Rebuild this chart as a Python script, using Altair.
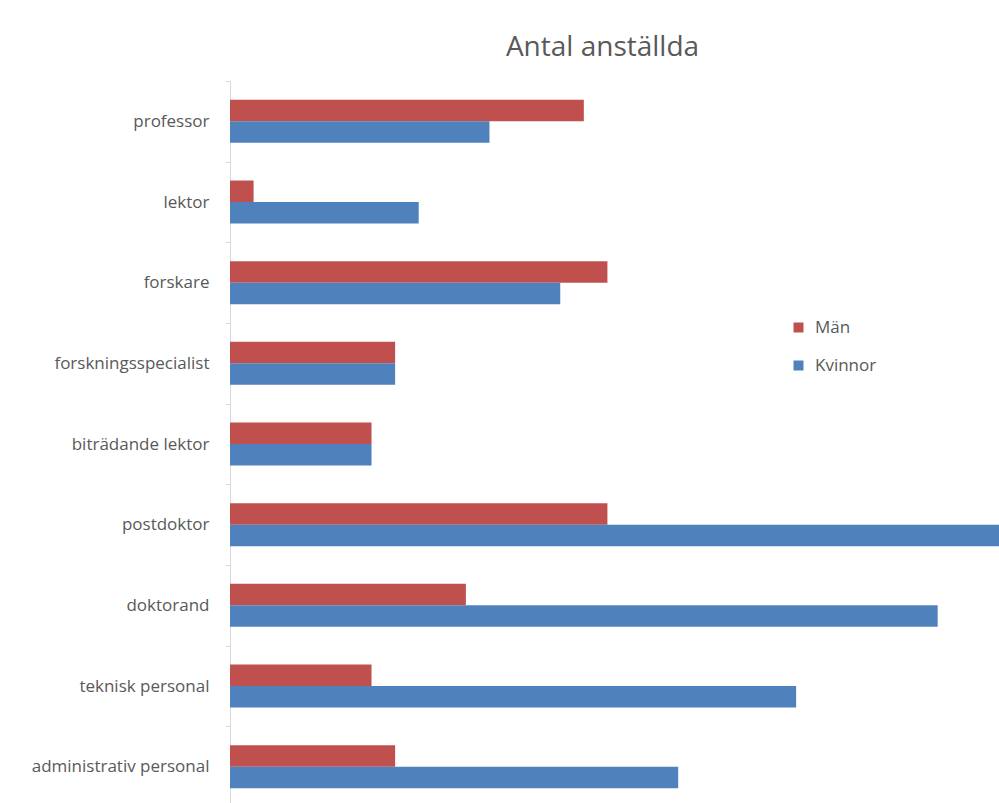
import altair as alt
import pandas as pd

# Staff counts per position, split by gender
categories = [
    "professor",
    "lektor",
    "forskare",
    "forskningsspecialist",
    "biträdande lektor",
    "postdoktor",
    "doktorand",
    "teknisk personal",
    "administrativ personal",
]
man = [15, 1, 16, 7, 6, 16, 10, 6, 7]
kvinnor = [11, 8, 14, 7, 6, 34, 30, 24, 19]
series = ["Män", "Kvinnor"]
colors = ["#C0504D", "#4F81BD"]

rows = []
for cat, m, k in zip(categories, man, kvinnor):
    rows.append({"position": cat, "kon": series[0], "antal": m})
    rows.append({"position": cat, "kon": series[1], "antal": k})
df = pd.DataFrame(rows)

text_color = "#595959"
font = "Open Sans"

chart = (
    alt.Chart(df)
    .mark_bar(clip=True)
    .encode(
        y=alt.Y(
            "position:N",
            sort=categories,
            scale=alt.Scale(paddingInner=0, paddingOuter=0),
            axis=alt.Axis(
                title=None,
                domainColor="#d9d9d9",
                tickColor="#d9d9d9",
                tickBand="extent",
                tickSize=5,
                labelPadding=16,
                labelFontSize=17,
                labelFont=font,
                labelColor=text_color,
                labelLimit=300,
            ),
        ),
        yOffset=alt.YOffset(
            "kon:N",
            sort=series,
            scale=alt.Scale(paddingInner=0, paddingOuter=0.877),
        ),
        x=alt.X(
            "antal:Q",
            scale=alt.Scale(domain=[0, 32.6], nice=False, zero=True),
            axis=None,
        ),
        color=alt.Color(
            "kon:N",
            sort=series,
            scale=alt.Scale(domain=series, range=colors),
            legend=alt.Legend(
                title=None,
                orient="none",
                legendX=560,
                legendY=238,
                symbolType="square",
                symbolSize=100,
                symbolStrokeWidth=0,
                labelFontSize=17,
                labelFont=font,
                labelColor=text_color,
                labelOffset=8,
                rowPadding=20,
            ),
        ),
    )
    .properties(
        width=769,
        height=726,
        autosize=alt.AutoSizeParams(type="none"),
        padding={"left": 230, "top": 81, "right": 0, "bottom": 0},
        title=alt.TitleParams(
            "Antal anställda",
            anchor="middle",
            dx=-12,
            offset=10,
            fontSize=28,
            font=font,
            fontWeight="normal",
            color=text_color,
        ),
    )
    .configure_view(stroke=None)
)

chart.save("out.html", embed_options={"renderer": "svg", "actions": False})
